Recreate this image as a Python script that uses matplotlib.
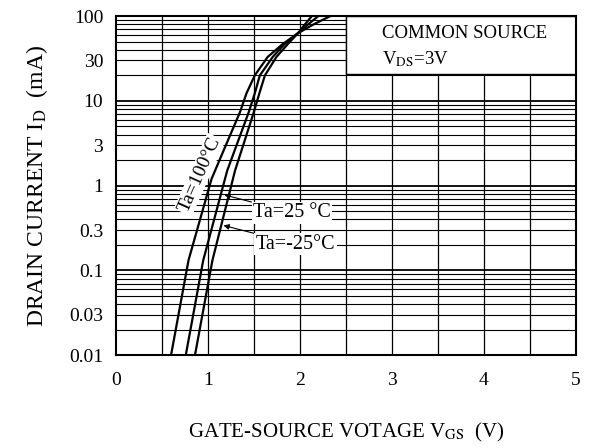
import numpy as np
import matplotlib.pyplot as plt
from matplotlib.patches import Rectangle

plt.rcParams['font.family'] = ['Liberation Serif', 'DejaVu Serif']
plt.rcParams['mathtext.fontset'] = 'stix'

# values (V_GS in V, I_D in mA)
vgs_100 = [0.60, 0.79, 1.04, 1.217, 1.35, 1.42, 1.51, 1.65, 1.815, 1.98, 2.15, 2.33]
id_100 = [0.01, 0.132, 1.2, 3.4, 7.4, 12.3, 20, 33, 47, 63, 80, 100]

vgs_25 = [0.76, 0.95, 1.21, 1.445, 1.51, 1.565, 1.705, 1.835, 1.98, 2.09, 2.20]
id_25 = [0.01, 0.132, 1.5, 7.4, 12.3, 20, 33, 47, 63, 80, 100]

vgs_m25 = [0.86, 1.05, 1.295, 1.50, 1.56, 1.62, 1.745, 1.87, 1.98, 2.055, 2.13]
id_m25 = [0.01, 0.132, 1.5, 7.4, 12.3, 20, 33, 47, 63, 80, 100]

y_ticks = [0.01, 0.03, 0.1, 0.3, 1, 3, 10, 30, 100]
y_tick_labels = ['0.01', '0.03', '0.1', '0.3', '1', '3', '10', '30', '100']
x_ticks = [0, 1, 2, 3, 4, 5]

fig = plt.figure(figsize=(6, 4.48), dpi=100)
ax = fig.add_axes([0.193, 0.207, 0.767, 0.757])

ax.set_yscale('log')
ax.set_xlim(0, 5)
ax.set_ylim(0.01, 100)

# grid: every 0.5 V, every log minor step
for xv in np.arange(0.5, 5.0, 0.5):
    ax.axvline(xv, color='black', lw=0.9, zorder=1)
for dec in [0.01, 0.1, 1, 10]:
    for m in range(2, 10):
        ax.axhline(dec * m, color='black', lw=0.8, zorder=1)
    ax.axhline(dec, color='black', lw=1.3, zorder=1)

# white box for the conditions text
ax.add_patch(Rectangle((2.5, 20.5), 2.5, 79.5, facecolor='white',
                       edgecolor='black', lw=1.0, zorder=2))
ax.text(2.89, 63, 'COMMON SOURCE', ha='left', va='center', fontsize=13.5, zorder=3)
ax.text(2.89, 31, r'V$_{\mathrm{DS}}$=3V', ha='left', va='center', fontsize=13.5, zorder=3)

ax.plot(vgs_100, id_100, color='black', lw=1.6, zorder=4)
ax.plot(vgs_25, id_25, color='black', lw=1.6, zorder=4)
ax.plot(vgs_m25, id_m25, color='black', lw=1.6, zorder=4)

lbl_box = dict(facecolor='white', edgecolor='none', pad=1)
ax.text(0.91, 1.35, 'Ta=100°C', rotation=66, ha='center', va='center',
        fontsize=14, bbox=lbl_box, zorder=5)
arrow = dict(arrowstyle='-|>', color='black', lw=0.8, mutation_scale=8,
             shrinkA=0, shrinkB=0)
ax.annotate('Ta=25 °C', xy=(1.18, 0.78), xytext=(1.49, 0.48),
            ha='left', va='center', fontsize=14.5, bbox=lbl_box, zorder=5,
            arrowprops=arrow)
ax.annotate('Ta=-25°C', xy=(1.17, 0.34), xytext=(1.52, 0.205),
            ha='left', va='center', fontsize=14.5, bbox=lbl_box, zorder=5,
            arrowprops=arrow)

ax.set_xticks(x_ticks)
ax.set_xticklabels([str(v) for v in x_ticks], fontsize=14)
ax.set_yticks(y_ticks)
ax.set_yticklabels(y_tick_labels, fontsize=14)
ax.minorticks_off()
ax.tick_params(axis='both', length=0)
ax.tick_params(axis='x', pad=12)
ax.tick_params(axis='y', pad=9)

for sp in ax.spines.values():
    sp.set_linewidth(1.5)
    sp.set_zorder(6)

ax.set_xlabel(r'GATE-SOURCE VOTAGE V$_{\mathrm{GS}}$  (V)', fontsize=15, labelpad=23)
ax.set_ylabel(r'DRAIN CURRENT I$_{\mathrm{D}}$  (mA)', fontsize=17, labelpad=14)

fig.savefig('out.png', dpi=100)
